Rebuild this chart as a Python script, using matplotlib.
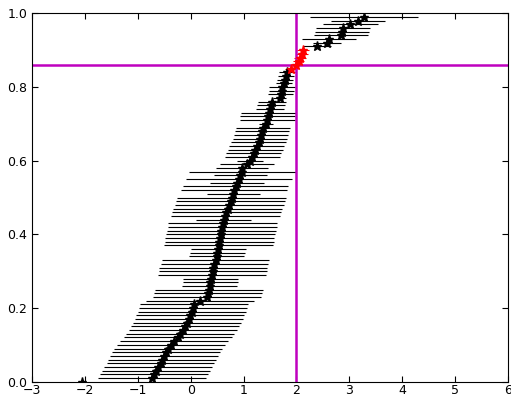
import numpy as np
import matplotlib
matplotlib.use('Agg')
import matplotlib.pyplot as plt

# sorted estimates with horizontal error bars, rank fraction on y

# black points (centres), rank 0..99, red ones are overwritten below
centers = [
    -2.05, -0.73, -0.70, -0.66, -0.62, -0.57, -0.54, -0.50, -0.47, -0.42,
    -0.37, -0.32, -0.24, -0.20, -0.15, -0.10, -0.07, -0.03, -0.01, 0.03,
    0.05, 0.07, 0.18, 0.31, 0.32, 0.34, 0.36, 0.37, 0.38, 0.40,
    0.42, 0.43, 0.45, 0.47, 0.49, 0.50, 0.52, 0.53, 0.54, 0.55,
    0.57, 0.58, 0.60, 0.61, 0.63, 0.65, 0.67, 0.70, 0.73, 0.76,
    0.78, 0.81, 0.82, 0.85, 0.88, 0.92, 0.94, 0.98, 0.97, 1.07,
    1.12, 1.16, 1.19, 1.22, 1.25, 1.29, 1.31, 1.33, 1.35, 1.37,
    1.43, 1.45, 1.46, 1.48, 1.50, 1.52, 1.54, 1.68, 1.70, 1.72,
    1.73, 1.76, 1.78, 1.80, 1.82, 1.90, 2.00, 2.04, 2.07, 2.10,
    2.13, 2.39, 2.58, 2.61, 2.84, 2.86, 2.88, 3.02, 3.17, 3.27,
]

half_widths = [
    0.00, 1.02, 1.02, 1.02, 1.02, 1.02, 1.02, 1.02, 1.02, 1.02,
    1.02, 1.02, 1.02, 1.02, 1.02, 1.02, 1.02, 1.02, 1.02, 1.02,
    1.02, 1.02, 1.02, 1.02, 1.02, 1.02, 0.52, 0.52, 0.52, 1.02,
    1.02, 1.02, 1.02, 1.02, 0.52, 0.52, 0.52, 1.03, 1.03, 1.03,
    1.03, 1.03, 1.03, 1.03, 0.52, 1.03, 1.03, 1.03, 1.03, 1.03,
    1.03, 0.51, 1.00, 1.00, 0.51, 1.00, 0.50, 1.01, 0.49, 0.51,
    0.25, 0.52, 0.52, 0.52, 0.52, 0.52, 0.51, 0.51, 0.51, 0.51,
    0.13, 0.52, 0.52, 0.52, 0.27, 0.27, 0.27, 0.13, 0.24, 0.24,
    0.24, 0.15, 0.15, 0.15, 0.15, 0.11, 0.11, 0.11, 0.11, 0.11,
    0.11, 0.26, 0.27, 0.51, 0.51, 0.51, 0.51, 0.52, 0.51, 1.02,
]

red_idx = [85, 86, 87, 88, 89, 90]

x_cut = 2.0
y_cut = 0.86

n = len(centers)
y = np.arange(n) / 100.0
x = np.array(centers)
xe = np.array(half_widths)

black = np.ones(n, dtype=bool)
black[red_idx] = False

fig = plt.figure(figsize=(5.11, 3.96), dpi=100)
ax = fig.add_axes([0.0626, 0.0361, 0.9315, 0.9303])

ax.errorbar(x[black], y[black], xerr=xe[black], fmt='*', color='k',
            ecolor='k', elinewidth=0.8, markersize=6.5, capsize=0)
ax.errorbar(x[~black], y[~black], xerr=xe[~black], fmt='*', color='r',
            ecolor='r', elinewidth=0.8, markersize=6.5, capsize=0)

ax.axvline(x_cut, color=(0.75, 0, 0.75), lw=1.8)
ax.axhline(y_cut, color=(0.75, 0, 0.75), lw=1.8)

ax.set_xlim(-3, 6)
ax.set_ylim(0, 1.0)
ax.set_xticks(range(-3, 7))
ax.set_yticks(np.arange(0, 1.01, 0.2))
ax.tick_params(direction='in', top=True, right=True, labelsize=9, length=4)
ax.tick_params(axis='x', pad=2)

fig.savefig('out.png', dpi=100)
